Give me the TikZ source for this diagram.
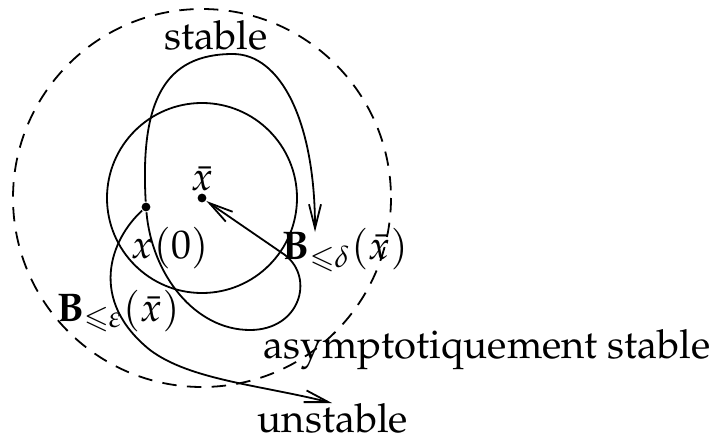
\documentclass[tikz,border=0pt]{standalone}
\usepackage[T1]{fontenc}
\usepackage{amsmath,amssymb}
\usepackage{mathpazo}
\usetikzlibrary{arrows.meta}

\begin{document}
\begin{tikzpicture}[x=0.25pt, y=-0.25pt, line width=0.45pt,
  point/.style={circle, fill, inner sep=0pt, minimum size=2.2pt},
  traj/.style={-{Straight Barb[length=6pt,width=3pt]}}]
  \useasboundingbox (0,0) rectangle (719,439);
  % Points
  \node[point] (xb) at (202,198) {};
  \node[point] (x0) at (146,207) {};
  \coordinate (stb) at (315,232);
  \coordinate (uns) at (332,403);
  % Boules
  \draw[dash pattern=on 3.6pt off 2.6pt] (xb) circle (189);
  \draw (xb) circle (95);
  % Trajectoire stable
  \draw[traj] (x0) .. controls (140,100) and (165,54) .. (233,54)
    .. controls (280,54) and (315,120) .. (stb);
  % Trajectoire asymptotiquement stable
  \draw[traj] (x0) .. controls (152,275) and (195,330) .. (250,330)
    .. controls (300,330) and (315,278) .. (285,255) -- (xb);
  % Trajectoire instable
  \draw[traj] (x0) .. controls (110,240) and (88,300) .. (150,350)
    .. controls (190,380) and (260,385) .. (uns);
  % Annotations
  \node (lstable) at (216,35) {stable};
  \node (lxb) at (202,179) {$\bar{x}$};
  \node (lx0) at (170,248) {$x(0)$};
  \node (ldelta) at (345,250) {$\mathbf{B}_{\leqslant\delta}(\bar{x})$};
  \node (leps) at (118,311) {$\mathbf{B}_{\leqslant\varepsilon}(\bar{x})$};
  \node (lasym) at (487,350) {asymptotiquement stable};
  \node (luns) at (333,418) {unstable};
\end{tikzpicture}
\end{document}
